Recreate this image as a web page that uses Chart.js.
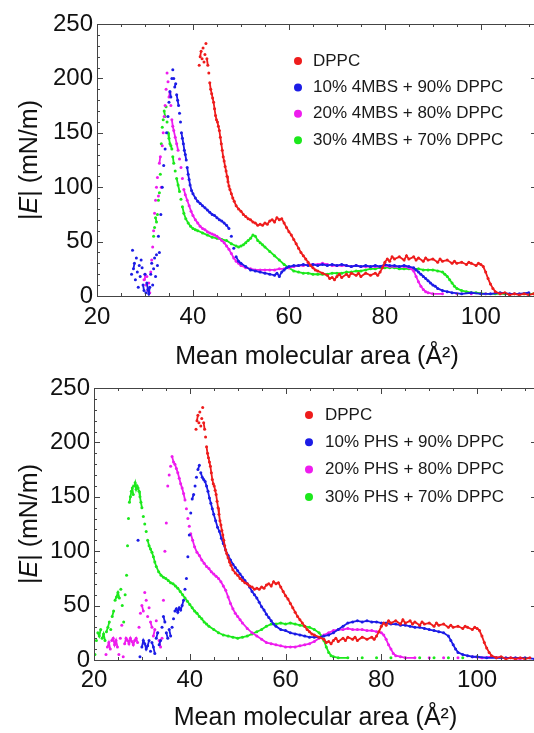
<!DOCTYPE html>
<html>
<head>
<meta charset="utf-8">
<script src="https://cdn.jsdelivr.net/npm/chart.js@4.4.0/dist/chart.umd.min.js"></script>
<style>
html, body { margin: 0; padding: 0; background: #fff; overflow: hidden; width: 534px; height: 733px; }
.box { position: absolute; left: 0; width: 545px; }
#top { top: 0; height: 380px; }
#bot { top: 360px; height: 373px; }
</style>
</head>
<body>
<div class="box" id="top"><canvas id="chartTop"></canvas></div>
<div class="box" id="bot"><canvas id="chartBot"></canvas></div>
<script>
// tick values
var xTickValues = [20, 40, 60, 80, 100];
var yTickValues = [0, 50, 100, 150, 200, 250];

var labelsTop = ["DPPC", "10% 4MBS + 90% DPPC", "20% 4MBS + 80% DPPC", "30% 4MBS + 70% DPPC"];
var labelsBot = ["DPPC", "10% PHS + 90% DPPC", "20% PHS + 80% DPPC", "30% PHS + 70% DPPC"];
var colors = ["#ee1c1c", "#1c1ce6", "#ee1cee", "#1ce81c"];

// [area, |E|]
var dppc = [[41.3,212],[41.5,220],[41.7,225],[41.9,218],[42.1,228],[42.3,215],[42.5,222],[42.7,232],[42.9,218],[43.1,212],[43.3,205],[43.5,196],[43.7,190],[43.9,186],[44.1,182],[44.3,178],[44.5,172],[44.7,166],[44.9,162],[45.1,160],[45.3,156],[45.5,152],[45.7,146],[45.9,140],[46.1,134],[46.3,128],[46.5,124],[46.7,119],[46.9,115],[47.1,110],[47.3,105],[47.5,101],[47.7,98],[48,94],[48.3,90],[48.6,87],[49,83],[49.5,80],[50,78],[50.5,75],[51,73],[51.5,71],[52,70],[52.5,68],[53,67],[53.5,65],[54,66],[54.5,65],[55,67],[55.5,66],[56,69],[56.5,70],[57,68],[57.5,72],[58,70],[58.5,71],[59,67],[59.5,63],[60,59],[60.5,56],[61,52],[61.5,48],[62,44],[62.5,40],[63,37],[63.5,34],[64,31],[64.5,28],[65,26],[65.5,24],[66,23],[67,21],[68,19],[68.5,16],[69,17],[69.5,15],[70,18],[70.5,20],[71,17],[72,20],[72.5,18],[73,21],[74,19],[74.5,21],[75,18],[76,21],[77,19],[78,21],[78.5,19],[79,22],[79.5,26],[80,31],[80.5,34],[81,32],[81.5,36],[82,34],[83,36],[84,33],[84.5,37],[85,34],[86,36],[86.5,33],[87,35],[88,32],[88.5,35],[89,33],[90,34],[91,31],[91.5,34],[92,32],[93,33],[94,30],[94.5,32],[95,30],[96,31],[97,29],[97.5,31],[98,30],[99,28],[99.5,30],[100,29],[100.5,27],[101,22],[101.5,16],[102,11],[102.5,7],[103,4],[104,2],[105,3],[106,1],[107,2],[108,1],[109,2],[110,1],[111,2]];

var mbs10 = [[27.2,20],[27.4,42],[27.6,25],[27.8,30],[28,15],[28.2,35],[28.4,22],[28.6,8],[28.8,28],[29,18],[29.2,33],[29.4,26],[29.6,10],[29.8,5],[30,20],[30.2,3],[30.4,12],[30.6,6],[30.8,2],[31,8],[31.2,20],[31.4,30],[31.6,10],[31.8,25],[32,35],[32.2,18],[32.4,38],[32.6,28],[32.8,55],[33,40],[33.3,75],[33.6,100],[33.9,120],[34.2,135],[34.5,150],[34.8,165],[35,178],[35.2,188],[35.4,183],[35.6,200],[35.8,208],[36,200],[36.2,192],[36.4,195],[36.6,185],[36.8,180],[37,175],[37.2,168],[37.4,160],[37.6,150],[37.8,145],[38,140],[38.2,134],[38.4,130],[38.6,125],[38.8,118],[39,112],[39.2,107],[39.4,102],[39.7,97],[40,94],[40.5,90],[41,87],[41.5,85],[42,83],[42.5,81],[43,79],[43.5,77],[44,75],[44.5,74],[45,72],[45.5,70],[46,69],[46.5,67],[47,65],[47.5,62],[48,55],[48.5,44],[49,36],[49.5,32],[50,30],[51,27],[52,24],[53,23],[54,22],[55,21],[56,20],[57,19],[57.5,21],[58,18],[58.5,22],[59,24],[59.5,26],[60,27],[61,28],[62,28],[63,29],[64,28],[65,29],[66,28],[67,29],[68,28],[69,29],[70,28],[71,29],[72,28],[73,27],[74,28],[75,27],[76,28],[77,27],[78,28],[79,27],[80,29],[81,28],[82,28],[83,27],[84,28],[85,27],[86,26],[86.5,24],[87,22],[87.5,20],[88,18],[88.5,16],[89,14],[89.5,12],[90,10],[90.5,9],[91,7],[92,5],[93,4],[94,3],[96,2],[98,3],[100,2],[102,2],[104,3],[106,2],[108,2],[110,3]];

var mbs20 = [[29.8,15],[30,20],[30.2,10],[30.4,18],[30.6,5],[30.8,12],[31,3],[31.2,22],[31.4,33],[31.6,45],[31.8,60],[32,76],[32.2,88],[32.4,100],[32.6,109],[32.8,92],[33,122],[33.2,128],[33.4,100],[33.6,138],[33.8,150],[34,165],[34.2,175],[34.4,190],[34.6,205],[34.8,197],[35,183],[35.2,187],[35.4,175],[35.6,162],[35.8,156],[36,152],[36.3,146],[36.6,140],[36.9,134],[37.2,126],[37.5,118],[37.8,108],[38.1,98],[38.4,93],[38.8,88],[39.2,83],[39.6,78],[40,74],[40.5,70],[41,67],[41.5,64],[42,62],[42.5,61],[43,59],[43.5,58],[44,57],[44.5,56],[45,55],[45.5,53],[46,51],[46.5,49],[47,46],[47.5,43],[48,39],[48.5,35],[49,32],[49.5,30],[50,28],[51,26],[52,25],[53,24],[54,24],[55,24],[56,24],[57,24],[58,25],[59,25],[60,26],[61,27],[62,28],[63,28],[64,29],[65,29],[66,29],[67,30],[68,29],[69,28],[70,28],[71,28],[72,28],[73,27],[74,28],[75,27],[76,27],[77,27],[78,27],[79,27],[80,28],[81,27],[82,27],[83,27],[84,27],[85,26],[85.5,25],[86,23],[86.5,18],[87,13],[87.5,9],[88,6],[88.5,4],[89,3],[90,2],[92,2],[95,2],[98,2],[101,2],[104,2],[107,2],[110,2]];

var mbs30 = [[31.8,55],[32,63],[32.2,72],[32.4,68],[32.6,75],[32.8,88],[33,95],[33.2,112],[33.4,140],[33.6,155],[33.8,162],[34,170],[34.2,165],[34.4,174],[34.6,160],[34.8,150],[35,145],[35.2,140],[35.4,138],[35.6,135],[35.8,128],[36,122],[36.3,115],[36.6,108],[36.9,102],[37.2,96],[37.5,89],[37.8,82],[38.1,76],[38.5,71],[39,67],[39.5,64],[40,62],[40.5,61],[41,60],[42,58],[43,56],[44,54],[45,53],[46,52],[47,51],[48,48],[49,46],[49.5,45],[50,46],[50.5,47],[51,49],[51.5,51],[52,53],[52.5,56],[53,55],[53.5,51],[54,49],[54.5,47],[55,45],[56,41],[57,37],[58,33],[59,29],[60,26],[61,23],[62,22],[63,21],[64,21],[65,20],[66,20],[67,20],[68,20],[69,21],[70,21],[71,21],[72,22],[73,22],[74,23],[75,23],[76,24],[77,25],[78,25],[79,26],[80,26],[81,26],[82,26],[83,25],[84,25],[85,25],[86,25],[87,25],[88,24],[89,24],[90,24],[91,23],[92,22],[92.5,20],[93,18],[93.5,15],[94,12],[94.5,9],[95,7],[96,5],[97,4],[98,3],[99,3],[101,2],[103,2],[105,2],[107,2],[109,2],[111,2]];

var phs10 = [[29.2,110],[29.6,3],[30,12],[30.3,18],[30.6,15],[30.9,10],[31.2,13],[31.5,18],[31.8,8],[32.1,16],[32.4,12],[32.7,6],[33,20],[33.3,25],[33.6,14],[33.9,18],[34.2,30],[34.5,40],[34.8,35],[35.1,25],[35.4,20],[35.7,28],[36,22],[36.3,30],[36.6,38],[36.9,45],[37.2,47],[37.5,44],[37.8,48],[38.1,46],[38.4,50],[38.7,55],[39,65],[39.3,75],[39.6,95],[39.9,115],[40.2,135],[40.5,148],[40.8,152],[41.1,160],[41.4,168],[41.7,175],[42,179],[42.3,172],[42.6,168],[42.9,166],[43.2,164],[43.5,160],[43.8,155],[44.1,149],[44.4,144],[44.7,139],[45,134],[45.4,128],[45.8,122],[46.2,118],[46.6,112],[47,107],[47.5,101],[48,96],[48.5,92],[49,88],[49.5,85],[50,82],[50.5,79],[51,76],[51.5,73],[52,70],[52.5,67],[53,63],[53.5,60],[54,57],[54.5,53],[55,49],[55.5,46],[56,42],[56.5,39],[57,36],[57.5,33],[58,31],[59,28],[60,27],[61,25],[62,24],[63,23],[64,22],[65,21],[66,21],[67,21],[68,22],[69,23],[70,25],[71,28],[72,31],[73,34],[74,35],[75,36],[76,35],[77,36],[78,35],[79,35],[80,34],[81,34],[82,33],[83,33],[84,32],[85,32],[86,31],[87,30],[88,30],[89,29],[90,28],[91,27],[92,26],[93,25],[94,22],[94.5,18],[95,14],[95.5,10],[96,7],[97,5],[98,4],[99,3],[100,3],[102,2],[104,2],[106,2],[108,2],[110,2],[112,1]];

var phs20 = [[22.5,5],[22.8,12],[23.1,16],[23.4,10],[23.7,18],[24,20],[24.3,14],[24.6,18],[24.9,12],[25.2,5],[25.5,20],[25.8,32],[26.1,3],[26.4,15],[26.7,20],[27,18],[27.3,15],[27.6,20],[27.9,17],[28.2,14],[28.5,18],[28.8,20],[29.1,16],[29.4,30],[29.7,43],[30,50],[30.3,45],[30.6,62],[30.9,55],[31.2,40],[31.5,48],[31.8,35],[32.1,30],[32.4,22],[32.7,28],[33,36],[33.3,25],[33.6,18],[33.9,12],[34.2,20],[34.5,55],[34.8,100],[35.1,126],[35.4,160],[35.7,170],[36,178],[36.3,187],[36.6,182],[36.9,180],[37.2,176],[37.5,172],[37.8,167],[38.1,162],[38.4,158],[38.7,153],[39,147],[39.3,139],[39.6,130],[39.9,123],[40.2,116],[40.6,110],[41,104],[41.5,99],[42,96],[42.5,92],[43,89],[43.5,86],[44,84],[44.5,81],[45,79],[45.5,77],[46,75],[46.5,72],[47,68],[47.5,64],[48,58],[48.5,52],[49,47],[49.5,43],[50,40],[50.5,37],[51,34],[52,29],[53,25],[54,22],[55,19],[56,16],[57,15],[58,14],[59,13],[60,12],[61,12],[62,12],[63,13],[64,14],[65,15],[66,17],[67,20],[68,23],[69,25],[70,27],[71,28],[72,28],[73,29],[74,28],[75,28],[76,28],[77,27],[78,27],[79,26],[80,25],[80.5,23],[81,19],[81.5,14],[82,10],[82.5,6],[83,4],[84,3],[85,2],[87,2],[90,2],[93,2],[96,2],[99,3],[101,2],[103,3],[105,2],[107,2],[109,1]];

var phs30 = [[20.2,5],[20.5,18],[20.8,25],[21.1,22],[21.4,28],[21.7,20],[22,24],[22.3,18],[22.6,26],[22.9,30],[23.2,35],[23.5,28],[23.8,40],[24.1,45],[24.4,55],[24.7,58],[25,62],[25.3,57],[25.6,65],[25.9,50],[26.2,35],[26.5,60],[26.8,78],[27,105],[27.2,130],[27.4,145],[27.6,150],[27.8,155],[28,158],[28.2,152],[28.4,160],[28.6,163],[28.8,157],[29,160],[29.2,158],[29.4,155],[29.6,150],[29.8,145],[30,140],[30.3,132],[30.6,125],[30.9,118],[31.2,110],[31.5,105],[31.8,102],[32.1,99],[32.4,95],[32.7,90],[33,86],[33.5,81],[34,78],[34.5,76],[35,75],[35.5,73],[36,71],[36.5,70],[37,68],[37.5,66],[38,63],[38.5,60],[39,57],[39.5,54],[40,51],[40.5,48],[41,45],[41.5,43],[42,40],[42.5,38],[43,35],[43.5,33],[44,31],[45,28],[46,25],[47,23],[48,22],[49,21],[50,20],[51,21],[52,22],[53,24],[54,26],[55,28],[56,31],[57,33],[58,33],[59,34],[60,33],[61,34],[62,33],[63,32],[64,31],[65,30],[66,28],[67,25],[67.5,22],[68,18],[68.5,12],[69,7],[69.5,4],[70,3],[71,2],[73,2],[76,2],[79,2],[82,2],[85,2],[88,2],[91,2],[94,2],[97,2]];

var FONT = '"Liberation Sans", Arial, sans-serif';

// inward frame ticks like the original plotting program
var framePlugin = {
    id: 'frame',
    afterDraw: function(chart) {
        var ctx = chart.ctx, a = chart.chartArea;
        var xs = chart.scales.x, ys = chart.scales.y;
        ctx.save();
        ctx.strokeStyle = '#444';
        ctx.lineWidth = 1;
        ctx.strokeRect(a.left + 0.5, a.top + 0.5, a.right - a.left, a.bottom - a.top);
        ctx.beginPath();
        for (var v = 20; v <= xs.max; v += 5) {
            var px = Math.round(xs.getPixelForValue(v)) + 0.5;
            var len = v % 20 === 0 ? 6 : 3;
            ctx.moveTo(px, a.bottom); ctx.lineTo(px, a.bottom - len);
            ctx.moveTo(px, a.top); ctx.lineTo(px, a.top + len);
        }
        for (var w = 0; w <= 250; w += 10) {
            var py = Math.round(ys.getPixelForValue(w)) + 0.5;
            var l2 = w % 50 === 0 ? 6 : 3;
            ctx.moveTo(a.left, py); ctx.lineTo(a.left + l2, py);
            ctx.moveTo(a.right, py); ctx.lineTo(a.right - l2, py);
        }
        ctx.stroke();

        // y title with italic E
        var parts = [['|', ''], ['E', 'italic '], ['| (mN/m)', '']];
        var total = 0;
        parts.forEach(function(p) { ctx.font = p[1] + '25px ' + FONT; p.push(ctx.measureText(p[0]).width); total += p[2]; });
        ctx.translate(30, (a.top + a.bottom) / 2);
        ctx.rotate(-Math.PI / 2);
        ctx.fillStyle = '#111';
        ctx.textBaseline = 'middle';
        var cx = -total / 2;
        parts.forEach(function(p) { ctx.font = p[1] + '25px ' + FONT; ctx.fillText(p[0], cx, 0); cx += p[2]; });
        ctx.restore();
    }
};

var dotLegend = {
    id: 'dotLegend',
    afterDraw: function(chart, args, opts) {
        var ctx = chart.ctx;
        ctx.save();
        ctx.font = '17px ' + FONT;
        ctx.textBaseline = 'middle';
        chart.data.datasets.forEach(function(ds, i) {
            var yy = opts.top + i * opts.step;
            ctx.fillStyle = ds.borderColor;
            ctx.beginPath();
            ctx.arc(opts.left, yy, 4, 0, Math.PI * 2);
            ctx.fill();
            ctx.fillStyle = '#1a1a1a';
            ctx.fillText(ds.label, opts.left + opts.gap, yy);
        });
        ctx.restore();
    }
};

function makeSets(labels, series) {
    return series.map(function(s, i) {
        var c = colors[i];
        return {
            label: labels[i],
            data: s.map(function(p) { return {x: p[0], y: p[1]}; }),
            borderColor: c,
            backgroundColor: c,
            pointRadius: 1.5,
            pointBorderWidth: 0,
            showLine: true,
            borderWidth: 1.8,
            segment: {
                borderColor: function(ctx) {
                    var dx = ctx.p1.x - ctx.p0.x, dy = ctx.p1.y - ctx.p0.y;
                    return (Math.abs(dy) > 7 || Math.hypot(dx, dy) > 13) ? 'rgba(0,0,0,0)' : c;
                }
            }
        };
    });
}

function makeChart(id, labels, series, L) {
    return new Chart(id, {
        type: 'scatter',
        data: { datasets: makeSets(labels, series) },
        plugins: [framePlugin, dotLegend],
        options: {
            responsive: true,
            maintainAspectRatio: false,
            animation: false,
            layout: { padding: { left: 0, top: L.top, right: L.right, bottom: 0 } },
            plugins: {
                legend: { display: false },
                tooltip: { enabled: false },
                dotLegend: L.legend
            },
            scales: {
                x: {
                    type: 'linear',
                    min: 20,
                    max: L.xMax,
                    grid: { display: false, drawTicks: false },
                    border: { display: false },
                    afterBuildTicks: function(s) { s.ticks = xTickValues.map(function(v) { return {value: v}; }); },
                    afterFit: function(s) { s.height = L.xHeight; },
                    ticks: { padding: L.xPad, color: '#111', font: { family: FONT, size: 24 } },
                    title: { display: true, text: 'Mean molecular area (Å²)', color: '#111',
                             padding: { top: 0, bottom: L.titlePad }, font: { family: FONT, size: 25 } }
                },
                y: {
                    min: 0,
                    max: 250,
                    grid: { display: false, drawTicks: false },
                    border: { display: false },
                    afterBuildTicks: function(s) { s.ticks = yTickValues.map(function(v) { return {value: v}; }); },
                    afterFit: function(s) { s.width = L.yWidth; },
                    ticks: { padding: 4, color: '#111', font: { family: FONT, size: 24 } },
                    title: { display: false }
                }
            }
        }
    });
}

makeChart('chartTop', labelsTop, [dppc, mbs10, mbs20, mbs30], {
    top: 24, right: 8, xMax: 111.7, xHeight: 84, yWidth: 97, xPad: 7, titlePad: 8,
    legend: { left: 298, top: 61, step: 26.4, gap: 15 }
});
makeChart('chartBot', labelsBot, [dppc, phs10, phs20, phs30], {
    top: 28, right: 8, xMax: 112.5, xHeight: 73, yWidth: 94, xPad: 6, titlePad: 0,
    legend: { left: 309, top: 55, step: 27.3, gap: 16 }
});
</script>
</body>
</html>
